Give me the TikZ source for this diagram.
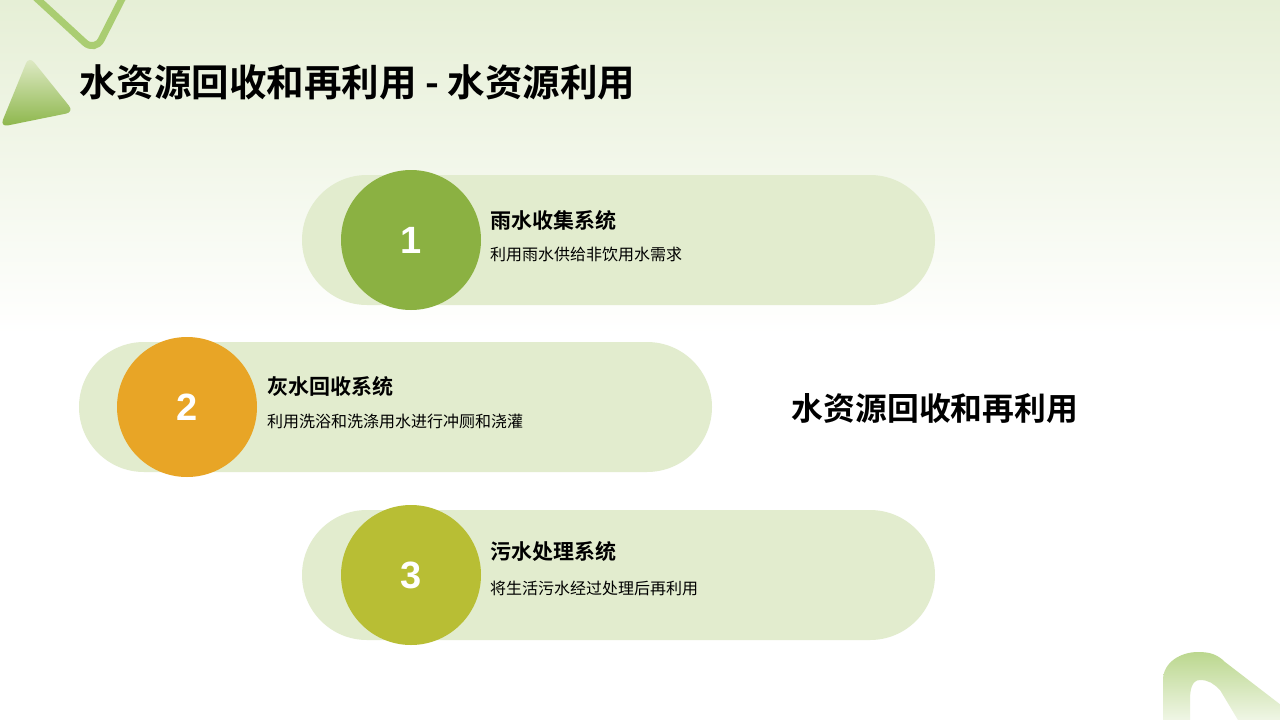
\documentclass[tikz,border=0pt]{standalone}
\usepackage{fontspec}
\setmainfont{Noto Sans CJK SC}
\newfontfamily\cjkb{Noto Sans CJK SC Bold}
\newfontfamily\numf{Liberation Sans}
\usetikzlibrary{shapes.geometric,calc}
\definecolor{bgtop}{HTML}{E6EFD6}
\definecolor{pill}{HTML}{E2ECCE}
\definecolor{cone}{HTML}{8BB142}
\definecolor{ctwo}{HTML}{E8A526}
\definecolor{cthree}{HTML}{B8BE34}
\definecolor{deco}{HTML}{AACD72}
\definecolor{decodark}{HTML}{8CB64A}
\definecolor{decolight}{HTML}{E2ECCB}
\tikzset{
  pillbox/.style={fill=pill, draw=none, rounded corners=65pt},
  numcirc/.style={circle, minimum size=140pt, inner sep=0pt, draw=none, text=white, font=\numf\bfseries\fontsize{38}{38}\selectfont},
  itemtitle/.style={anchor=west, inner sep=0pt, font=\cjkb\fontsize{21}{21}\selectfont},
  itemtext/.style={anchor=west, inner sep=0pt, font=\fontsize{16}{16}\selectfont},
}
\begin{document}
\begin{tikzpicture}[x=1pt,y=-1pt]
\useasboundingbox (0,0) rectangle (1280,720);
% background
\fill[white] (0,0) rectangle (1280,720);
\shade[top color=bgtop, bottom color=white] (0,0) rectangle (1280,335);
% decorations
\draw[deco, line width=7pt, line cap=round, rounded corners=14pt] (33,-5) -- (95,52) -- (124,-5);
\shade[top color=decolight, bottom color=decodark, rounded corners=8pt] (29,56) -- (74,112) -- (0,127) -- cycle;
\begin{scope}
\clip (1150,640) rectangle (1280,720);
\shade[top color=deco!80, bottom color=white] (1163,725) -- (1163,680) to[out=90,in=180] (1198,652) to[out=0,in=135] (1225,662) -- (1290,712) -- (1290,740) -- (1250,740) -- (1220,690) to[out=135,in=0] (1200,680) to[out=180,in=90] (1190,700) -- (1190,725) -- cycle;
\end{scope}
% title
\node[anchor=west, inner sep=0pt, font=\cjkb\fontsize{37.5}{37.5}\selectfont] (title) at (79,82) {水资源回收和再利用 - 水资源利用};
% pills
\fill[pillbox] (302,175) rectangle (935,305);
\fill[pillbox] (79,342) rectangle (712,472);
\fill[pillbox] (302,510) rectangle (935,640);
\node[numcirc, fill=cone] (c1) at (411,240) {1};
\node[numcirc, fill=ctwo] (c2) at (187,407) {2};
\node[numcirc, fill=cthree] (c3) at (411,575) {3};
\node[itemtitle] (t1) at (490,220) {雨水收集系统};
\node[itemtext] (s1) at (490,254) {利用雨水供给非饮用水需求};
\node[itemtitle] (t2) at (267,386) {灰水回收系统};
\node[itemtext] (s2) at (267,421) {利用洗浴和洗涤用水进行冲厕和浇灌};
\node[itemtitle] (t3) at (490,551) {污水处理系统};
\node[itemtext] (s3) at (490,588) {将生活污水经过处理后再利用};
\node[anchor=center, inner sep=0pt, font=\cjkb\fontsize{31.8}{31.8}\selectfont] (side) at (935,408) {水资源回收和再利用};
\end{tikzpicture}
\end{document}
